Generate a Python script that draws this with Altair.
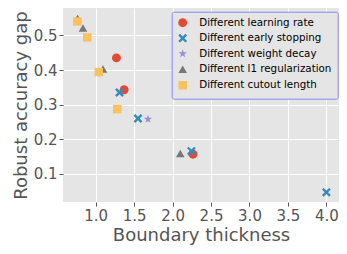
import altair as alt
import pandas as pd

series = ["Different learning rate", "Different early stopping", "Different weight decay",
          "Different l1 regularization", "Different cutout length"]

lr_x = [1.27, 1.37, 2.265]
lr_y = [0.435, 0.343, 0.157]
es_x = [1.31, 1.55, 2.245, 4.0]
es_y = [0.335, 0.260, 0.166, 0.047]
wd_x = [1.68]
wd_y = [0.258]
l1_x = [0.765, 0.835, 1.095, 2.10]
l1_y = [0.549, 0.521, 0.403, 0.159]
co_x = [0.762, 0.89, 1.04, 1.28]
co_y = [0.540, 0.494, 0.394, 0.287]

colors = ["#E24A33", "#348ABD", "#988ED5", "#777777", "#FBC15E"]
x_path = "M-1,-0.62L-0.62,-1L0,-0.38L0.62,-1L1,-0.62L0.38,0L1,0.62L0.62,1L0,0.38L-0.62,1L-1,0.62L-0.38,0Z"
star_path = ("M0,-1L0.235,-0.324L0.951,-0.309L0.380,0.124L0.588,0.809L0,0.4L-0.588,0.809"
             "L-0.380,0.124L-0.951,-0.309L-0.235,-0.324Z")
shapes = ["circle", x_path, star_path, "triangle-up", "square"]
sizes = [80, 72, 85, 105, 90]

rows = []
for k, (name, xs, ys) in enumerate(zip(series, [lr_x, es_x, wd_x, l1_x, co_x], [lr_y, es_y, wd_y, l1_y, co_y])):
    for a, b in zip(xs, ys):
        rows.append({"series": name, "x": a, "y": b, "order": k})
df = pd.DataFrame(rows)

font = "DejaVu Sans"

chart = alt.Chart(df).mark_point(filled=True, opacity=1).encode(
    x=alt.X("x:Q", title="Boundary thickness",
            scale=alt.Scale(domain=[0.575, 4.164], nice=False, zero=False),
            axis=alt.Axis(values=[1.0, 1.5, 2.0, 2.5, 3.0, 3.5, 4.0], format=".1f")),
    y=alt.Y("y:Q", title="Robust accuracy gap",
            scale=alt.Scale(domain=[0.019, 0.579], nice=False, zero=False),
            axis=alt.Axis(values=[0.1, 0.2, 0.3, 0.4, 0.5], format=".1f")),
    color=alt.Color("series:N", scale=alt.Scale(domain=series, range=colors),
                    legend=alt.Legend(title=None, orient="none", legendX=108.7, legendY=3.7,
                                      fillColor="#E5E5E5", strokeColor="#8888EE",
                                      padding=5.5, labelFontSize=10.3, labelFont=font,
                                      labelColor="#000000", symbolSize=85,
                                      labelOffset=11, rowPadding=0.5, cornerRadius=2,
                                      symbolOpacity=1)),
    shape=alt.Shape("series:N", scale=alt.Scale(domain=series, range=shapes)),
    size=alt.Size("series:N", scale=alt.Scale(domain=series, range=sizes), legend=None),
    order=alt.Order("order:Q"),
).properties(
    width=276, height=194,
    autosize=alt.AutoSizeParams(type="none"),
    padding={"left": 55, "top": 0, "right": 0, "bottom": 44},
    background="white",
).configure_view(
    fill="#E5E5E5", stroke=None
).configure_axis(
    domain=False, grid=True, gridColor="white", gridWidth=1,
    tickColor="#555555", tickSize=4, tickWidth=1,
    labelFont=font, labelFontSize=15, labelColor="#555555", labelPadding=2,
    titleFont=font, titleFontSize=18, titleColor="#555555", titleFontWeight="normal",
    titlePadding=3,
)

chart.save("out.html", embed_options={"renderer": "svg", "actions": False})
